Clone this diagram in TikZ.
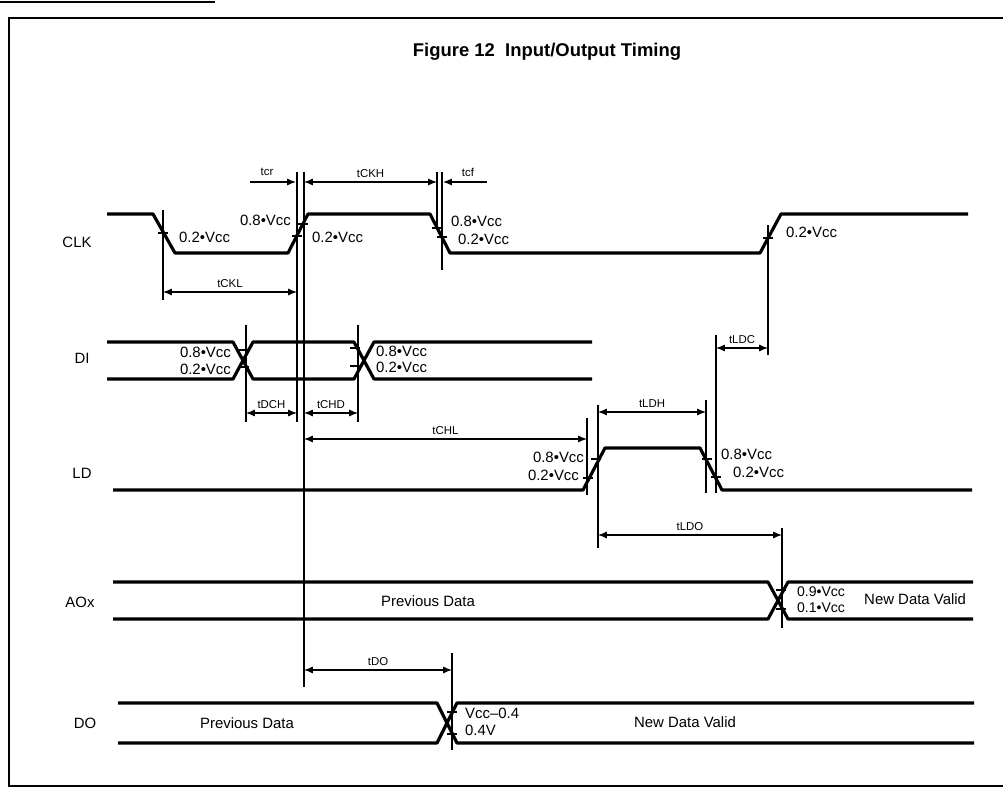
\documentclass[tikz,border=0pt]{standalone}
\usepackage{fontspec}
\setmainfont{Liberation Sans}
\usetikzlibrary{arrows.meta}

\begin{document}
\begin{tikzpicture}[x=0.02cm, y=-0.02cm,
	sig/.style={line width=1.8pt, line join=round},
	guide/.style={line width=0.7pt},
	dim/.style={line width=0.7pt, {Latex[length=5pt,width=4pt]}-{Latex[length=5pt,width=4pt]}},
	half/.style={line width=0.7pt, -{Latex[length=5pt,width=4pt]}},
	sname/.style={font=\fontsize{8.5}{10}\selectfont},
	lvl/.style={font=\fontsize{8.5}{9}\selectfont, inner sep=1pt},
	tlab/.style={font=\fontsize{6.5}{7}\selectfont, inner sep=1pt}]
\useasboundingbox (0,0) rectangle (1003,793);
\draw[line width=1.2pt] (0,2) -- (215,2);
\draw[line width=1pt] (1003,18) -- (9,18) -- (9,786) -- (1003,786);
\node[font=\bfseries\fontsize{10.5}{12}\selectfont] (title) at (547,52) {Figure 12\ \ Input/Output Timing};
\foreach \n/\x/\y/\txt in {clk/77/242/CLK, di/82/358/DI, ld/82/473/LD, aox/80/602/AOx, do/85/723/DO} {
	\node[sname] (\n) at (\x,\y) {\txt};
	};
\draw[sig] (107,214) -- (153,214) -- (175,253) -- (288,253) -- (308,214) -- (430,214) -- (450,253) -- (760,253) -- (781,214) -- (968,214);
\draw[sig] (107,342) -- (233,342) -- (253,379) -- (354,379) -- (374,342) -- (592,342);
\draw[sig] (107,379) -- (233,379) -- (253,342) -- (354,342) -- (374,379) -- (592,379);
\draw[sig] (113,490) -- (583,490) -- (605,448) -- (700,448) -- (722,490) -- (972,490);
\draw[sig] (113,582) -- (768,582) -- (788,619) -- (973,619);
\draw[sig] (113,619) -- (768,619) -- (788,582) -- (973,582);
\draw[sig] (118,703) -- (437,703) -- (457,743) -- (974,743);
\draw[sig] (118,743) -- (437,743) -- (457,703) -- (974,703);
\foreach \x/\a/\b in {163/210/300, 297/172/422, 304/172/687, 437/172/228, 442/172/270, 768/225/355, 246/325/422, 358/325/422, 587/418/495, 598/405/548, 706/400/493, 716/335/493, 782/528/628, 452/653/750} {
	\draw[guide] (\x,\a) -- (\x,\b);
	};
\foreach \x/\y in {163/233, 297/236, 303/224, 437/228, 442/237, 768/238, 244/350, 244/367, 355/348, 355/366, 588/478, 596/459, 707/459, 716/477, 781/590, 781/609, 452/712, 452/734} {
	\draw[guide] (\x-5,\y) -- (\x+5,\y);
	};
\foreach \n/\x/\y/\a/\txt in {ca/177/237/west/0.2•Vcc, cb/293/220/east/0.8•Vcc, cc/310/237/west/0.2•Vcc, cd/449/221/west/0.8•Vcc, ce/456/239/west/0.2•Vcc, cf/784/232/west/0.2•Vcc, da/233/352/east/0.8•Vcc, db/233/369/east/0.2•Vcc, dc/374/351/west/0.8•Vcc, dd/374/367/west/0.2•Vcc, la/586/457/east/0.8•Vcc, lb/581/475/east/0.2•Vcc, lc/719/454/west/0.8•Vcc, le/731/472/west/0.2•Vcc, oa/463/713/west/Vcc--0.4, ob/463/730/west/0.4V} {
	\node[lvl, anchor=\a] (\n) at (\x,\y) {\txt};
	};
\node[lvl, anchor=west, font=\fontsize{8}{9}\selectfont] (aa) at (795,592) {0.9•Vcc};
\node[lvl, anchor=west, font=\fontsize{8}{9}\selectfont] (ab) at (795,608) {0.1•Vcc};
\node[sname] (aoxprev) at (428,601) {Previous Data};
\node[sname, anchor=west] (aoxnew) at (858,599) {New Data Valid};
\node[sname] (doprev) at (247,723) {Previous Data};
\node[sname] (donew) at (685,722) {New Data Valid};
\foreach \n/\a/\b/\y/\txt in {tckh/304/437/182/tCKH, tckl/163/297/292/tCKL, tdch/246/297/413/tDCH, tchd/304/358/413/tCHD, tchl/304/587/439/tCHL, tldh/598/706/412/tLDH, tldc/716/768/348/tLDC, tldo/598/782/535/tLDO, tdo/304/452/670/tDO} {
	\draw[dim] (\a,\y) -- node[tlab, above=1pt] (\n) {\txt} (\b,\y);
	};
\draw[half] (250,182) -- (296,182);
\draw[half] (487,182) -- (443,182);
\node[tlab] (tcr) at (267,172) {tcr};
\node[tlab] (tcf) at (468,172) {tcf};
\end{tikzpicture}
\end{document}
